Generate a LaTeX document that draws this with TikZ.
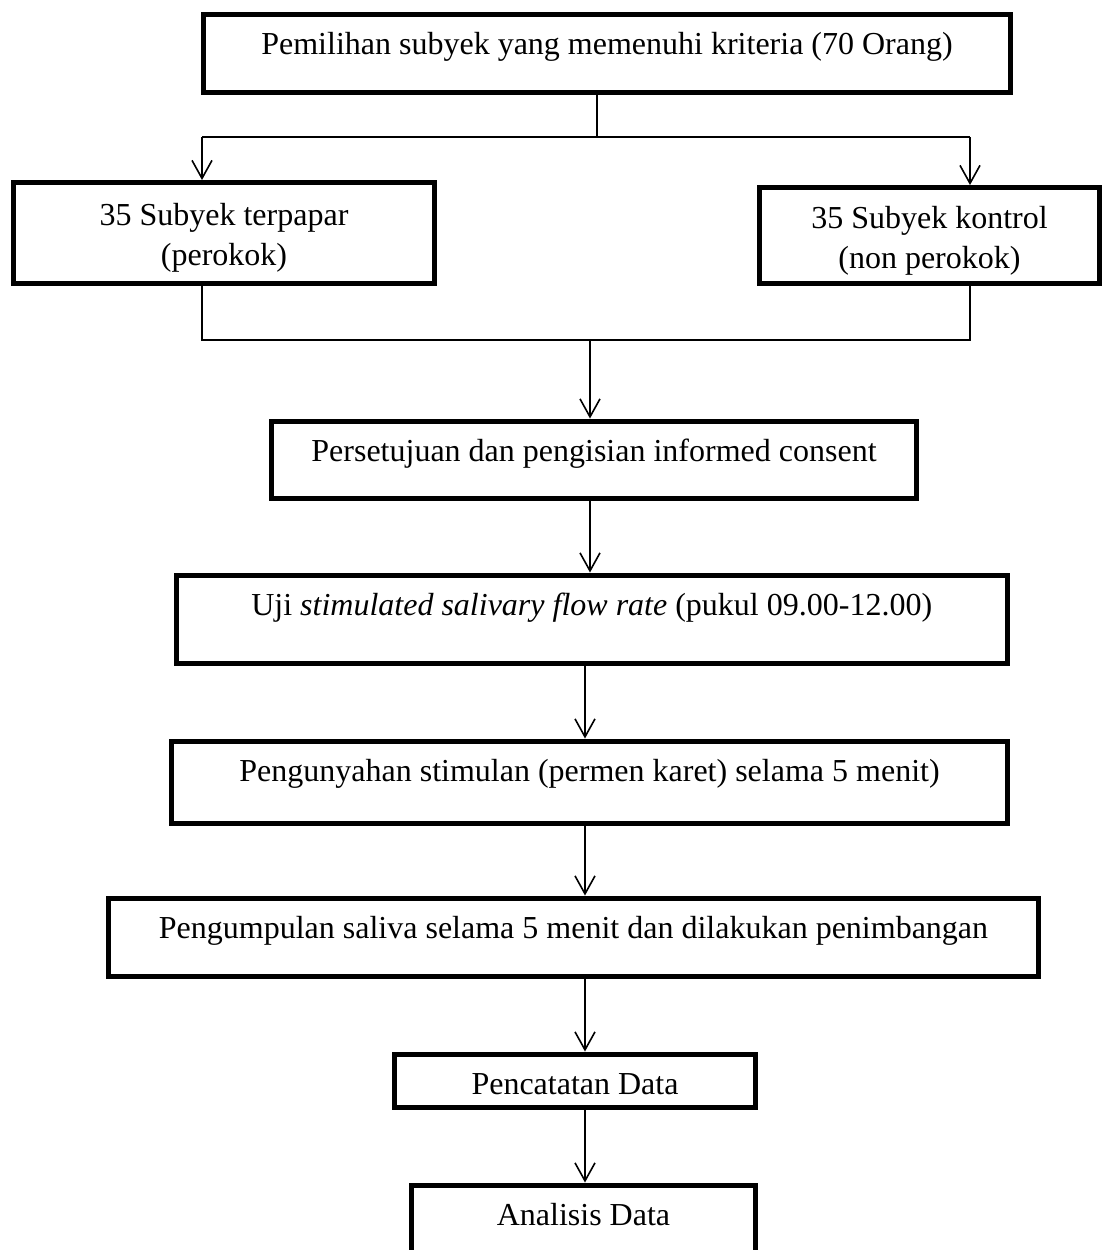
\documentclass[tikz,border=0pt]{standalone}
\usepackage{fontspec}
\setmainfont{Liberation Serif}
\usepackage{tikz}
\usetikzlibrary{arrows.meta}

\begin{document}
\begin{tikzpicture}[x=0.5pt, y=-0.5pt,
    >={Straight Barb[length=9pt,width=10pt]},
    stage/.style={draw, line width=2.5pt, inner sep=0pt, anchor=north,
                  text height=20pt, font=\fontsize{16pt}{20pt}\selectfont},
    group/.style={draw, line width=2.5pt, inner sep=0pt, align=center,
                  font=\fontsize{16pt}{20pt}\selectfont},
    link/.style={line width=0.8pt}]

    \useasboundingbox (0,0) rectangle (1102,1250);

    \node[stage, minimum width=403.5pt, text depth=19pt]   (b1) at (607, 11.5)   {Pemilihan subyek yang memenuhi kriteria (70 Orang)};
    \node[group, minimum width=210.5pt, minimum height=50.5pt] (b2) at (224, 233)  {\rule{0pt}{16pt}35 Subyek terpapar\\(perokok)};
    \node[group, minimum width=170pt, minimum height=48pt]     (b3) at (929.5, 235.5) {\rule{0pt}{16pt}35 Subyek kontrol\\(non perokok)};
    \node[stage, minimum width=322.5pt, text depth=18.5pt] (b4) at (594, 418.5)  {Persetujuan dan pengisian informed consent};
    \node[stage, minimum width=415.75pt, text depth=24pt]  (b5) at (591.75, 572.5) {Uji \textit{stimulated salivary flow rate} (pukul 09.00-12.00)};
    \node[stage, minimum width=418pt, text depth=21pt]     (b6) at (589.5, 738.5) {Pengunyahan stimulan (permen karet) selama 5 menit)};
    \node[stage, minimum width=465pt, text depth=19pt]     (b7) at (573.5, 895.5) {Pengumpulan saliva selama 5 menit dan dilakukan penimbangan};
    \node[stage, minimum width=180.5pt, text depth=6.5pt]  (b8) at (575, 1051.5) {Pencatatan Data};
    \node[stage, minimum width=172pt, text depth=19pt]     (b9) at (583.5, 1182.5) {Analisis Data};

    % split into two groups
    \coordinate (fork)  at (597, 137);
    \coordinate (forkL) at (202, 137);
    \coordinate (forkR) at (970, 137);
    \draw[link] (b1.south -| fork) -- (fork);
    \draw[link] (forkL) -- (forkR);
    \draw[link, ->] (forkL) -- (b2.north -| forkL);
    \draw[link, ->] (forkR) -- (b3.north -| forkR);

    % join the two groups again
    \coordinate (join)  at (590, 340);
    \coordinate (joinL) at (202, 340);
    \coordinate (joinR) at (970, 340);
    \draw[link] (b2.south -| joinL) -- (joinL) -- (joinR) -- (b3.south -| joinR);
    \draw[link, ->] (join) -- (b4.north -| join);

    % main line
    \coordinate (axisA) at (590, 0);
    \coordinate (axisB) at (585, 0);
    \draw[link, ->] (b4.south -| axisA) -- (b5.north -| axisA);
    \draw[link, ->] (b5.south -| axisB) -- (b6.north -| axisB);
    \draw[link, ->] (b6.south -| axisB) -- (b7.north -| axisB);
    \draw[link, ->] (b7.south -| axisB) -- (b8.north -| axisB);
    \draw[link, ->] (b8.south -| axisB) -- (b9.north -| axisB);
\end{tikzpicture}
\end{document}
